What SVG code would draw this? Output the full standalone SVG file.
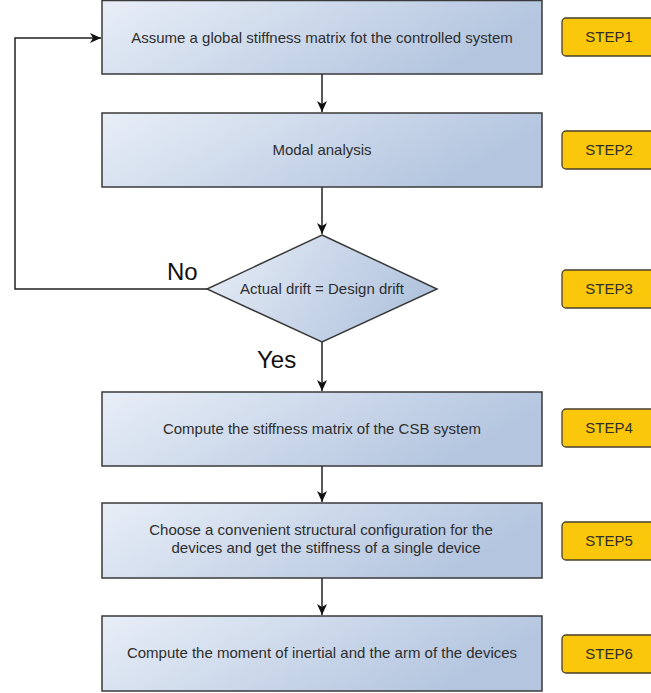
<svg xmlns="http://www.w3.org/2000/svg" width="651" height="693" viewBox="0 0 651 693">
<style>
.box{fill:url(#g);stroke:#3a3a3a;stroke-width:1.5}
.step{fill:#FBC70A;stroke:#4a3f2a;stroke-width:1.3}
.t{font-family:"Liberation Sans",Arial,sans-serif;font-size:15px;fill:#2e2e2e;text-anchor:middle}
.big{font-family:"Liberation Sans",Arial,sans-serif;font-size:24px;fill:#111}
.c{fill:none;stroke:#222;stroke-width:1.5}
</style>
<defs>
<linearGradient id="g" x1="0" y1="0" x2="1" y2="0.3">
<stop offset="0" stop-color="#e8eef7"/>
<stop offset="1" stop-color="#b3c5df"/>
</linearGradient>
<marker id="a" markerWidth="12" markerHeight="10" refX="11" refY="5" orient="auto" markerUnits="userSpaceOnUse">
<path d="M0,0 L11,5 L0,10 L3,5 Z" fill="#111"/>
</marker>
</defs>
<rect width="651" height="693" fill="#fff"/>
<g id="connectors">
<line class="c" x1="322" y1="74" x2="322" y2="112" marker-end="url(#a)"/>
<line class="c" x1="322" y1="187" x2="322" y2="234" marker-end="url(#a)"/>
<line class="c" x1="322" y1="342" x2="322" y2="391" marker-end="url(#a)"/>
<line class="c" x1="322" y1="466" x2="322" y2="502" marker-end="url(#a)"/>
<line class="c" x1="322" y1="578" x2="322" y2="615" marker-end="url(#a)"/>
<polyline class="c" points="207,289 15,289 15,38 101,38" marker-end="url(#a)"/>
<text class="big" x="167" y="280">No</text>
<text class="big" x="257" y="368">Yes</text>
</g>
<g id="n1"><rect class="box" x="102" y="0.5" width="440" height="73.5"/><text class="t" x="322" y="43">Assume a global stiffness matrix fot the controlled system</text></g>
<g id="n2"><rect class="box" x="102" y="113" width="440" height="74"/><text class="t" x="322" y="155">Modal analysis</text></g>
<g id="n3"><polygon class="box" points="322,235 437,289 322,342 207,289"/><text class="t" x="322" y="294">Actual drift = Design drift</text></g>
<g id="n4"><rect class="box" x="102" y="392" width="440" height="74"/><text class="t" x="322" y="434">Compute the stiffness matrix of the CSB system</text></g>
<g id="n5"><rect class="box" x="102" y="503" width="440" height="75"/><text class="t" x="321" y="535">Choose a convenient structural configuration for the</text><text class="t" x="326" y="553">devices and get the stiffness of a single device</text></g>
<g id="n6"><rect class="box" x="102" y="616" width="440" height="75"/><text class="t" x="322" y="658">Compute the moment of inertial and the arm of the devices</text></g>
<g id="s1"><rect class="step" x="562" y="18" width="96" height="38" rx="4"/><text class="t" x="609" y="42">STEP1</text></g>
<g id="s2"><rect class="step" x="562" y="131" width="96" height="38" rx="4"/><text class="t" x="609" y="155">STEP2</text></g>
<g id="s3"><rect class="step" x="562" y="270" width="96" height="38" rx="4"/><text class="t" x="609" y="294">STEP3</text></g>
<g id="s4"><rect class="step" x="562" y="409" width="96" height="38" rx="4"/><text class="t" x="609" y="433">STEP4</text></g>
<g id="s5"><rect class="step" x="562" y="522" width="96" height="38" rx="4"/><text class="t" x="609" y="546">STEP5</text></g>
<g id="s6"><rect class="step" x="562" y="635" width="96" height="38" rx="4"/><text class="t" x="609" y="659">STEP6</text></g>
</svg>
